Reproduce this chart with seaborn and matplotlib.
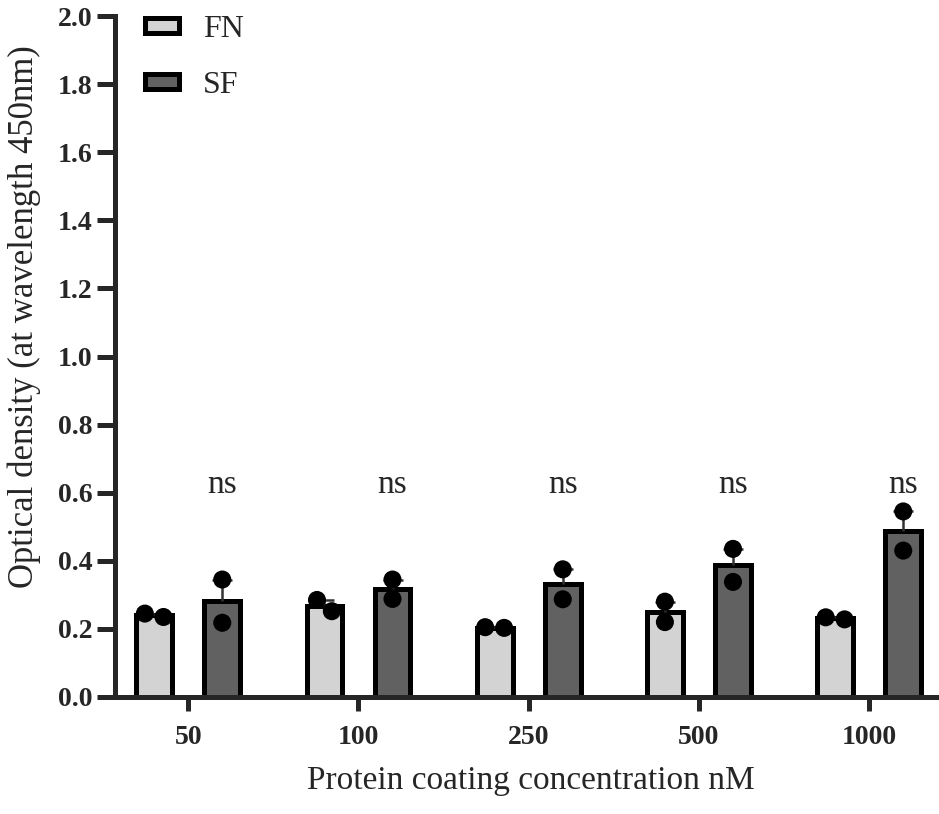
import numpy as np
import pandas as pd
import matplotlib
matplotlib.use("Agg")
import matplotlib.pyplot as plt
import seaborn as sns

# concentrations (nM) and replicate readings
conc = ["50", "100", "250", "500", "1000"]
fn_rep1 = [0.235, 0.252, 0.203, 0.220, 0.228]
fn_rep2 = [0.245, 0.285, 0.205, 0.280, 0.234]
sf_rep1 = [0.345, 0.345, 0.375, 0.435, 0.545]
sf_rep2 = [0.218, 0.288, 0.287, 0.338, 0.430]
groups = ["FN", "SF"]
colors = ["#d3d3d3", "#616161"]

rows = []
for i, c in enumerate(conc):
    for v in (fn_rep1[i], fn_rep2[i]):
        rows.append({"conc": c, "group": "FN", "od": v})
    for v in (sf_rep1[i], sf_rep2[i]):
        rows.append({"conc": c, "group": "SF", "od": v})
df = pd.DataFrame(rows)

sns.set_style("ticks")
plt.rcParams["font.family"] = ["Liberation Serif", "DejaVu Serif"]

fig = plt.figure(figsize=(9.39, 8.14), dpi=100)
ax = fig.add_axes([115 / 939, 1 - 697 / 814, 1 - 115 / 939, (697 - 16) / 814])

sns.barplot(data=df, x="conc", y="od", hue="group", order=conc, hue_order=groups,
            palette=colors, errorbar=None, width=0.8, gap=0.475,
            edgecolor="black", linewidth=3.6, ax=ax, legend=True)

# mean + SEM, drawn upward only (like the original)
stats = df.groupby(["group", "conc"], sort=False)["od"].agg(["mean", "sem"])
bars = [p for p in ax.patches if p.get_height() > 0]
centers = []
for p in bars:
    xc = p.get_x() + p.get_width() / 2
    centers.append(xc)
    h = p.get_height()
    match = stats[np.isclose(stats["mean"], h)]
    sem = match["sem"].iloc[0]
    eb = ax.errorbar(xc, h, yerr=[[0], [sem]], fmt="none", ecolor="#333333",
                     elinewidth=1.8, capsize=7, capthick=1.8, zorder=3)
    # keep only the upper cap
    for cap in eb[1]:
        if np.isclose(cap.get_ydata()[0], h):
            cap.remove()
centers = np.array(centers)

n_before = len(ax.collections)
sns.swarmplot(data=df, x="conc", y="od", hue="group", order=conc, hue_order=groups,
              dodge=True, palette=["black", "black"], size=13, ax=ax,
              legend=False, zorder=4)

ax.set_ylim(0, 2.0)
ax.set_xlim(-0.43, 4.41)

# run the swarm layout once, then centre each pair on its bar
fig.canvas.draw()
for coll in ax.collections[n_before:]:
    if "draw" in coll.__dict__:
        del coll.draw
    offs = np.asarray(coll.get_offsets()).copy()
    if len(offs) == 0:
        continue
    near = np.abs(offs[:, :1] - centers[None, :]).argmin(axis=1)
    for k in np.unique(near):
        sel = near == k
        offs[sel, 0] += centers[k] - offs[sel, 0].mean()
    coll.set_offsets(offs)

# "ns" above every pair
for i, c in enumerate(conc):
    ax.text(i + 0.2, 0.6, "ns", ha="center", va="baseline", fontsize=24)

ax.set_yticks(np.arange(0, 2.01, 0.2))
ax.set_yticklabels([f"{t:.1f}" for t in np.arange(0, 2.01, 0.2)])

for s in ["top", "right"]:
    ax.spines[s].set_visible(False)
for s in ["left", "bottom"]:
    ax.spines[s].set_linewidth(3.6)
ax.tick_params(axis="y", length=13, width=3.6, pad=3, labelsize=20)
ax.tick_params(axis="x", length=10, width=3.6, pad=10, labelsize=20)
for lab in ax.get_xticklabels() + ax.get_yticklabels():
    lab.set_fontweight("bold")

ax.set_xlabel("Protein coating concentration nM", fontsize=24)
ax.set_ylabel("Optical density (at wavelength 450nm)", fontsize=25)
ax.xaxis.set_label_coords(531 / 939, 1 - 765 / 814, transform=fig.transFigure)
ax.yaxis.set_label_coords(41 / 939, 1 - 317 / 814, transform=fig.transFigure)

handles, labels = ax.get_legend_handles_labels()
ax.legend(handles[:2], labels[:2], loc="upper left", frameon=False,
          bbox_to_anchor=(145 / 939, 1 - 15 / 814), bbox_transform=fig.transFigure,
          borderpad=0, borderaxespad=0, fontsize=23, handlelength=1.06,
          handleheight=0.33, handletextpad=0.75, labelspacing=0.84)

fig.savefig("out.png", dpi=100)
